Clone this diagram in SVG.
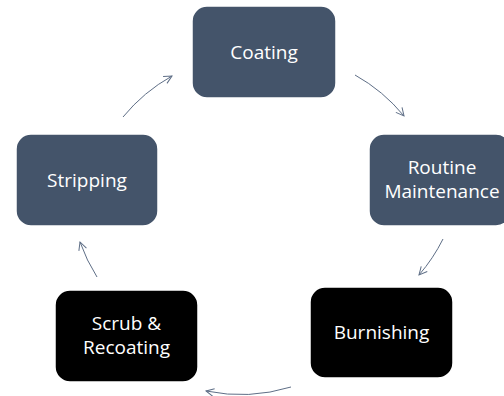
<svg xmlns="http://www.w3.org/2000/svg" width="504" height="396" viewBox="0 0 504 396">
<defs>
<marker id="ah" markerWidth="12" markerHeight="12" refX="9" refY="5" orient="auto" markerUnits="userSpaceOnUse">
<path d="M1,1 L9,5 L1,9" fill="none" stroke="#5E6E86" stroke-width="1"/>
</marker>
<style>
.slate{fill:#44546A;stroke:#ffffff;stroke-width:1.5}
.dark{fill:#000000;stroke:#ffffff;stroke-width:1.5}
.lbl{font-family:"Open Sans","Liberation Sans",sans-serif;font-size:19px;fill:#ffffff;text-anchor:middle}
.con{fill:none;stroke:#5E6E86;stroke-width:1;marker-end:url(#ah)}
</style>
</defs>
<rect width="504" height="396" fill="#ffffff"/>
<g id="connectors">
<path class="con" d="M123,117 A172,172 0 0 1 172,76"/>
<path class="con" d="M355,75 A172,172 0 0 1 404,116"/>
<path class="con" d="M443,239 A172,172 0 0 1 419,275"/>
<path class="con" d="M291,387 A172,172 0 0 1 206,391"/>
<path class="con" d="M97,277 A172,172 0 0 1 80,242"/>
</g>
<g id="coating">
<rect class="slate" x="192" y="6" width="144" height="92" rx="15"/>
<text class="lbl" x="264" y="59">Coating</text>
</g>
<g id="routine">
<rect class="slate" x="369" y="134" width="142" height="92" rx="15"/>
<text class="lbl" x="442" y="174">Routine</text>
<text class="lbl" x="442" y="198">Maintenance</text>
</g>
<g id="burnishing">
<rect class="dark" x="310" y="287" width="143" height="91" rx="15"/>
<text class="lbl" x="381.5" y="339">Burnishing</text>
</g>
<g id="scrub">
<rect class="dark" x="55" y="290" width="143" height="92" rx="15"/>
<text class="lbl" x="126.5" y="330">Scrub &amp;</text>
<text class="lbl" x="126.5" y="354">Recoating</text>
</g>
<g id="stripping">
<rect class="slate" x="16" y="134" width="142" height="92" rx="15"/>
<text class="lbl" x="87" y="187">Stripping</text>
</g>
</svg>
